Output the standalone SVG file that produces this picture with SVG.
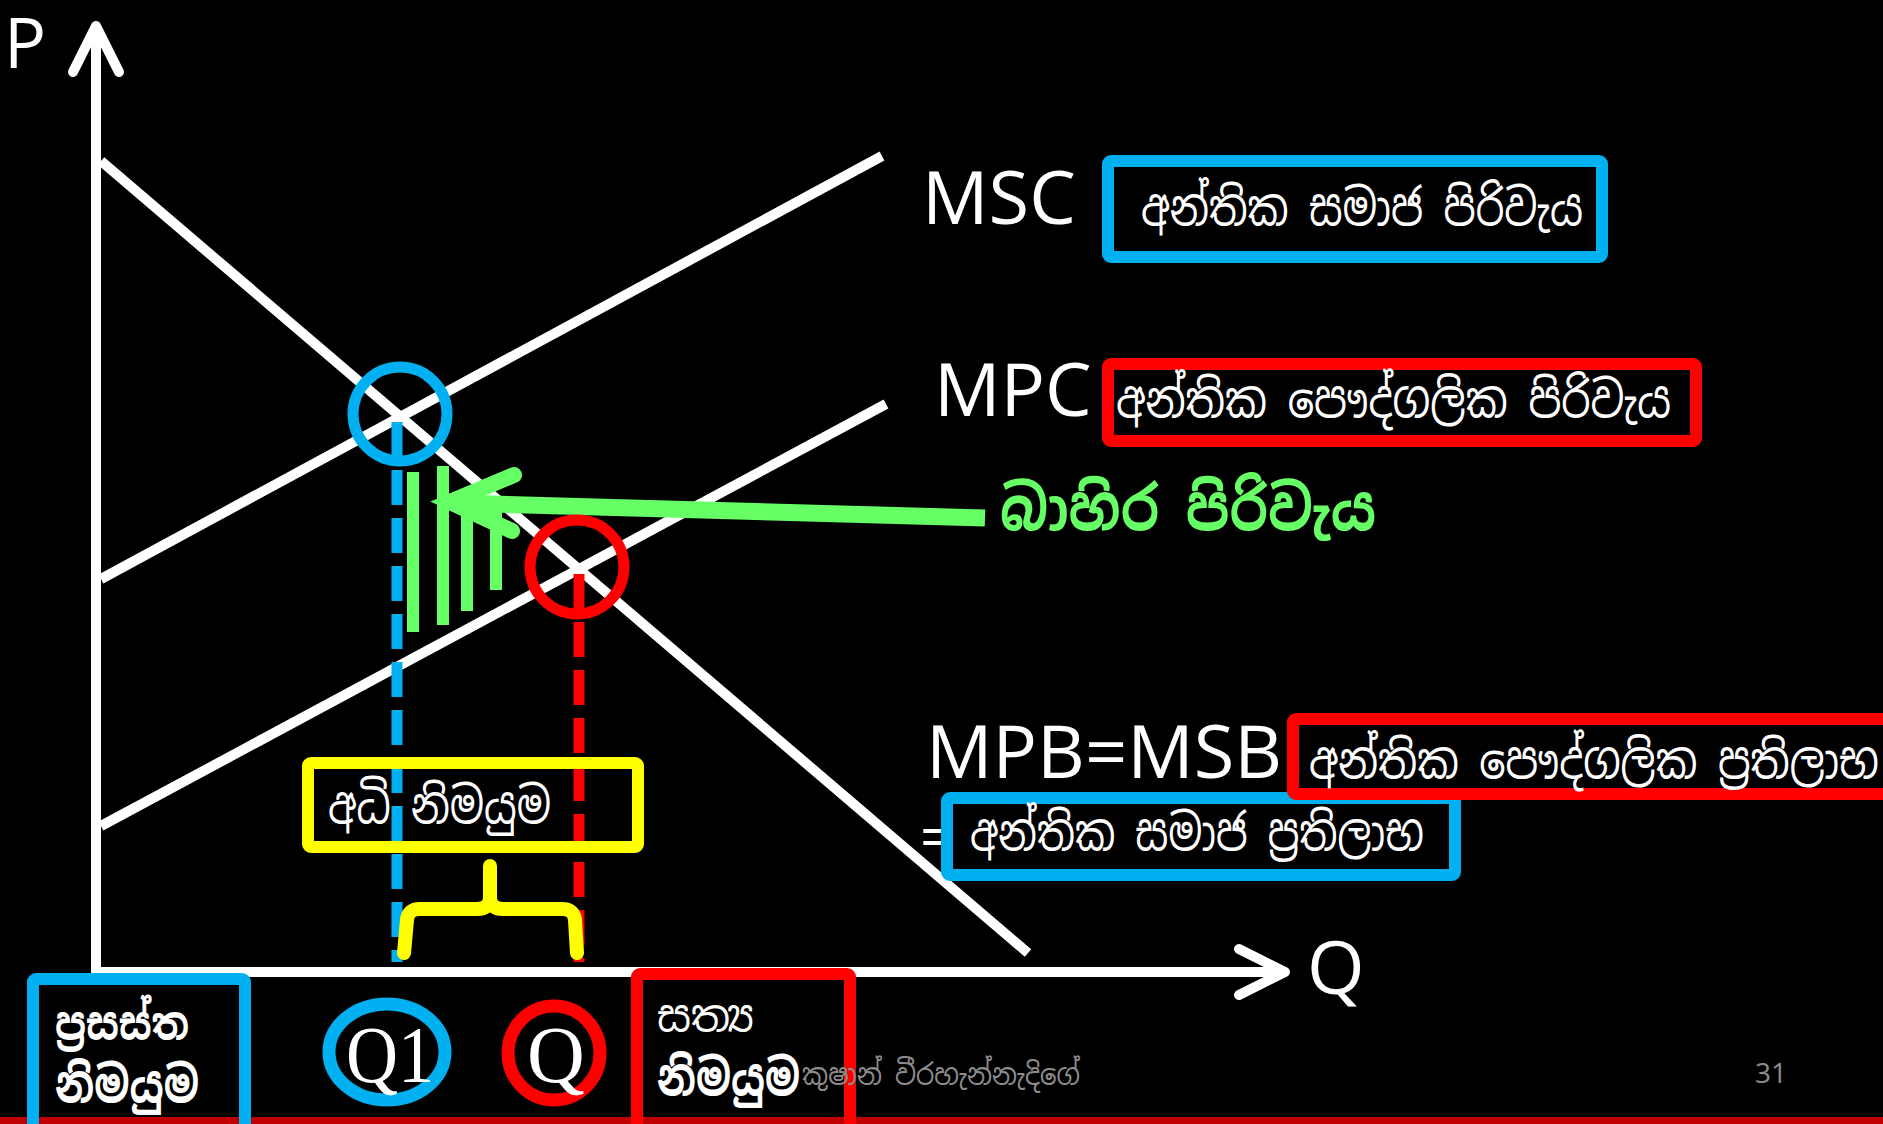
<svg xmlns="http://www.w3.org/2000/svg" width="1883" height="1124" viewBox="0 0 1883 1124">
<style>
.ax{stroke:#fff;stroke-width:10;fill:none}
.ah{stroke:#fff;stroke-width:10;fill:none;stroke-linecap:round;stroke-linejoin:round}
.cv{stroke:#fff;stroke-width:10;fill:none}
.lbl{font-family:"Open Sans","Liberation Sans",sans-serif;fill:#fff}
.si{font-family:"Noto Sans Sinhala","Noto Sans","DejaVu Sans",sans-serif;fill:#fff}
.bb{fill:none;stroke:#00B0F0;stroke-width:12}
.rb{fill:none;stroke:#FF0000;stroke-width:12}
.yb{fill:none;stroke:#FFFF00;stroke-width:12}
.gr{stroke:#66FF66;fill:none}
.q{font-family:"Liberation Serif",serif;fill:#fff;font-size:80px}
</style>
<rect width="1883" height="1124" fill="#000"/>
<rect x="0" y="1117" width="1883" height="7" fill="#C00000"/>

<g id="axes">
<line class="ax" x1="96" y1="972" x2="96" y2="28"/>
<polyline class="ah" points="73,72 96,26 119,72"/>
<line class="ax" x1="91" y1="972" x2="1283" y2="972"/>
<polyline class="ah" points="1239,949 1285,972 1239,995"/>
<text class="lbl" x="4" y="68" style="font-size:70px">P</text>
<text class="lbl" x="1307" y="994" style="font-size:74px">Q</text>
</g>

<g id="connectors">
<line class="cv" x1="101" y1="161" x2="1028" y2="953"/>
<line class="cv" x1="101" y1="579" x2="882" y2="156"/>
<line class="cv" x1="101" y1="826" x2="886" y2="404"/>
<line x1="397" y1="422" x2="397" y2="962" stroke="#00B0F0" stroke-width="11" stroke-dasharray="35 13"/>
<line x1="579" y1="574" x2="579" y2="962" stroke="#FF0000" stroke-width="11" stroke-dasharray="35 13"/>
<g id="hatch" fill="#66FF66">
<rect x="407" y="472" width="12" height="160"/>
<rect x="437" y="466" width="12" height="159"/>
<rect x="461" y="489" width="12" height="122"/>
<rect x="490" y="505" width="12" height="85"/>
</g>
<g id="external-cost-arrow">
<line class="gr" x1="458" y1="503" x2="985" y2="518" stroke-width="17"/>
<polyline class="gr" points="514,475 450,502 512,531" stroke-width="16" stroke-linecap="round" stroke-linejoin="miter"/>
</g>
<path d="M404 953 L407 920 Q408 909 420 909 L477 909 Q490 909 490 897 L490 866 M490 897 Q490 909 503 909 L562 909 Q574 909 575 920 L577 953" stroke="#FFFF00" stroke-width="14" fill="none" stroke-linecap="round"/>
</g>

<g id="node-blue-circle"><circle cx="400" cy="414" r="47" fill="none" stroke="#00B0F0" stroke-width="11"/></g>
<g id="node-red-circle"><circle cx="577" cy="567" r="47" fill="none" stroke="#FF0000" stroke-width="11"/></g>

<g id="node-msc">
<text class="lbl" x="922" y="224" style="font-size:74px">MSC</text>
<rect class="bb" x="1108" y="161" width="494" height="96" rx="3"/>
<text class="si" x="1141" y="225" font-size="50" textLength="442" lengthAdjust="spacingAndGlyphs">අන්තික සමාජ පිරිවැය</text>
</g>

<g id="node-mpc">
<text class="lbl" x="934" y="416" style="font-size:74px">MPC</text>
<rect class="rb" x="1108" y="364" width="588" height="77" rx="3"/>
<text class="si" x="1116" y="417" font-size="50" textLength="555" lengthAdjust="spacingAndGlyphs">අන්තික පෞද්ගලික පිරිවැය</text>
</g>

<g id="node-external-cost">
<text class="si" x="1000" y="530" font-size="62" font-weight="bold" style="fill:#66FF66" textLength="376" lengthAdjust="spacingAndGlyphs">බාහිර පිරිවැය</text>
</g>

<g id="node-msb-social">
<text class="lbl" x="920" y="858" style="font-size:60px">=</text>
<rect class="bb" x="947" y="798" width="508" height="77" rx="3"/>
<text class="si" x="970" y="850" font-size="50" textLength="454" lengthAdjust="spacingAndGlyphs">අන්තික සමාජ ප්‍රතිලාභ</text>
</g>

<g id="node-mpb">
<text class="lbl" x="926" y="778" style="font-size:74px">MPB=MSB</text>
<rect class="rb" x="1293" y="719" width="640" height="75" rx="3"/>
<text class="si" x="1309" y="778" font-size="50" textLength="570" lengthAdjust="spacingAndGlyphs">අන්තික පෞද්ගලික ප්‍රතිලාභ</text>
</g>

<g id="node-over-output">
<rect class="yb" x="308" y="763" width="330" height="84" rx="3"/>
<text class="si" x="328" y="823" font-size="50" textLength="223" lengthAdjust="spacingAndGlyphs">අධි නිමයුම</text>
</g>

<g id="node-optimal">
<rect class="bb" x="33" y="979" width="212" height="160" rx="3"/>
<text class="si" x="55" y="1040" font-size="46" font-weight="bold" textLength="134" lengthAdjust="spacingAndGlyphs">ප්‍රසස්ත</text>
<text class="si" x="55" y="1102" font-size="50" font-weight="bold" textLength="144" lengthAdjust="spacingAndGlyphs">නිමයුම</text>
</g>

<g id="node-q1">
<ellipse cx="387" cy="1052" rx="58" ry="48" fill="none" stroke="#00B0F0" stroke-width="13"/>
<text class="q" x="390" y="1082" text-anchor="middle" textLength="88" lengthAdjust="spacingAndGlyphs">Q1</text>
</g>

<g id="node-q">
<ellipse cx="554" cy="1053" rx="46" ry="47" fill="none" stroke="#FF0000" stroke-width="13"/>
<text class="q" x="556" y="1082" text-anchor="middle">Q</text>
</g>

<g id="node-actual">
<rect class="rb" x="637" y="974" width="213" height="165" rx="3"/>
<text class="si" x="657" y="1032" font-size="44" textLength="97" lengthAdjust="spacingAndGlyphs">සත්‍ය</text>
<text class="si" x="657" y="1095" font-size="50" font-weight="bold" textLength="143" lengthAdjust="spacingAndGlyphs">නිමයුම</text>
</g>

<g id="footer">
<text class="si" x="802" y="1085" font-size="30" style="fill:#8c8c8c" textLength="278" lengthAdjust="spacingAndGlyphs">කුෂාන් වීරහැන්නැදිගේ</text>
<text class="lbl" x="1755" y="1083" style="font-size:28px;fill:#8c8c8c">31</text>
</g>
</svg>
